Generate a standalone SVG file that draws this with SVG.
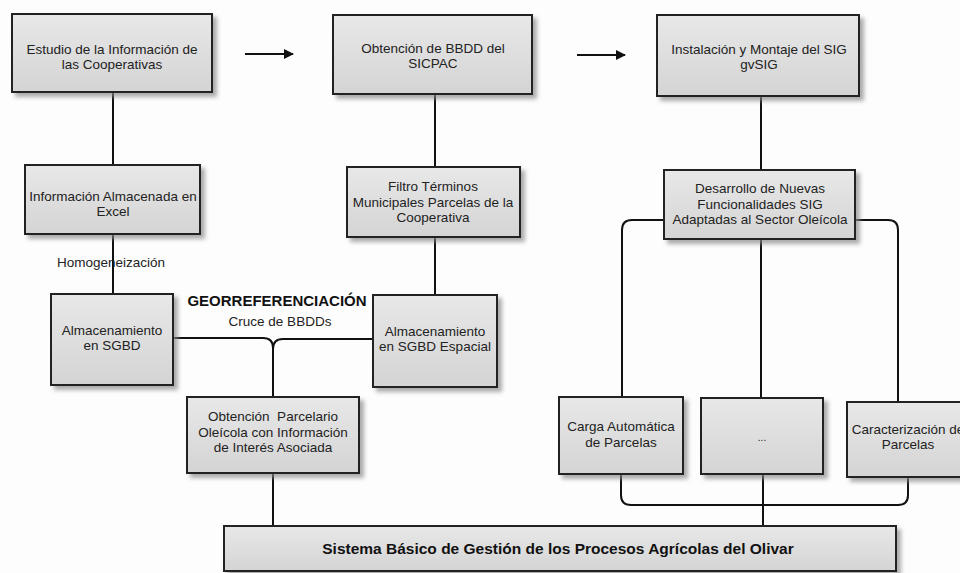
<svg xmlns="http://www.w3.org/2000/svg" width="960" height="573" viewBox="0 0 960 573">
<defs>
<linearGradient id="g" x1="0" y1="0" x2="0" y2="1">
<stop offset="0" stop-color="#e8e8e8"/>
<stop offset="1" stop-color="#d4d4d4"/>
</linearGradient>
<filter id="sh" x="-10%" y="-10%" width="130%" height="140%">
<feDropShadow dx="4" dy="4" stdDeviation="2" flood-color="#888" flood-opacity="0.7"/>
</filter>
<marker id="ah" markerWidth="10" markerHeight="10" refX="9" refY="5" orient="auto" markerUnits="userSpaceOnUse">
<path d="M0,0 L10,5 L0,10 Z" fill="#111"/>
</marker>
<style>
.box{fill:url(#g);stroke:#222;stroke-width:2;filter:url(#sh)}
.t{font-family:"Liberation Sans",Arial,sans-serif;font-size:13.5px;fill:#222;text-anchor:middle}
.b{font-family:"Liberation Sans",Arial,sans-serif;font-weight:bold;fill:#111;text-anchor:middle}
.c{fill:none;stroke:#111;stroke-width:2}
</style>
</defs>
<rect width="960" height="573" fill="#fdfdfd"/>
<g id="connectors">
<path class="c" d="M113,92 V165"/>
<path class="c" d="M113,234 V294"/>
<path class="c" d="M435,94 V167"/>
<path class="c" d="M435,237 V295"/>
<path class="c" d="M761,96 V170"/>
<path class="c" d="M173,338 H263 Q273,338 273,348 V397"/>
<path class="c" d="M373,339 H283 Q273,339 273,349"/>
<path class="c" d="M273,473 V526"/>
<path class="c" d="M664,220 H632 Q622,220 622,230 V397"/>
<path class="c" d="M855,220 H888 Q898,220 898,230 V402"/>
<path class="c" d="M761,239 V398"/>
<path class="c" d="M621,474 V495 Q621,505 631,505 H898 Q908,505 908,495 V477"/>
<path class="c" d="M763,474 V526"/>
<path class="c" d="M245,54 H293" marker-end="url(#ah)"/>
<path class="c" d="M577,55 H625" marker-end="url(#ah)"/>
</g>
<g id="n1"><rect class="box" x="12" y="14" width="200" height="78"/>
<text class="t" x="112" y="54">Estudio de la Información de</text><text class="t" x="112" y="69">las Cooperativas</text></g>
<g id="n2"><rect class="box" x="333" y="15" width="199" height="79"/>
<text class="t" x="433" y="53">Obtención de BBDD del</text><text class="t" x="433" y="68">SICPAC</text></g>
<g id="n3"><rect class="box" x="657" y="15" width="202" height="81"/>
<text class="t" x="759" y="54">Instalación y Montaje del SIG</text><text class="t" x="759" y="69">gvSIG</text></g>
<g id="n4"><rect class="box" x="25" y="165" width="175" height="69"/>
<text class="t" x="113" y="201">Información Almacenada en</text><text class="t" x="113" y="216">Excel</text></g>
<g id="n5"><rect class="box" x="51" y="294" width="122" height="91"/>
<text class="t" x="112" y="335">Almacenamiento</text><text class="t" x="112" y="350">en SGBD</text></g>
<g id="n6"><rect class="box" x="347" y="167" width="173" height="70"/>
<text class="t" x="433" y="191">Filtro Términos</text><text class="t" x="433" y="207">Municipales Parcelas de la</text><text class="t" x="433" y="222">Cooperativa</text></g>
<g id="n7"><rect class="box" x="373" y="295" width="124" height="92"/>
<text class="t" x="435" y="336">Almacenamiento</text><text class="t" x="435" y="351">en SGBD Espacial</text></g>
<g id="n8"><rect class="box" x="187" y="397" width="172" height="76"/>
<text class="t" x="273" y="421" style="white-space:pre">Obtención  Parcelario</text><text class="t" x="273" y="437">Oleícola con Información</text><text class="t" x="273" y="452">de Interés Asociada</text></g>
<g id="n9"><rect class="box" x="664" y="170" width="191" height="69"/>
<text class="t" x="760" y="193">Desarrollo de Nuevas</text><text class="t" x="760" y="209">Funcionalidades SIG</text><text class="t" x="760" y="224">Adaptadas al Sector Oleícola</text></g>
<g id="n10"><rect class="box" x="559" y="397" width="124" height="77"/>
<text class="t" x="621" y="431">Carga Automática</text><text class="t" x="621" y="447">de Parcelas</text></g>
<g id="n11"><rect class="box" x="701" y="398" width="122" height="76"/>
<text class="t" x="762" y="441" style="font-size:10px">...</text></g>
<g id="n12"><rect class="box" x="847" y="402" width="124" height="75"/>
<text class="t" x="908" y="434">Caracterización de</text><text class="t" x="908" y="449">Parcelas</text></g>
<g id="n13"><rect class="box" x="224" y="526" width="672" height="45"/>
<text class="b" x="558" y="554" style="font-size:15.5px">Sistema Básico de Gestión de los Procesos Agrícolas del Olivar</text></g>
<g id="labels">
<text class="t" x="111" y="267">Homogeneización</text>
<text class="b" x="277" y="306" style="font-size:15px">GEORREFERENCIACIÓN</text>
<text class="t" x="280" y="326">Cruce de BBDDs</text>
</g>
</svg>
